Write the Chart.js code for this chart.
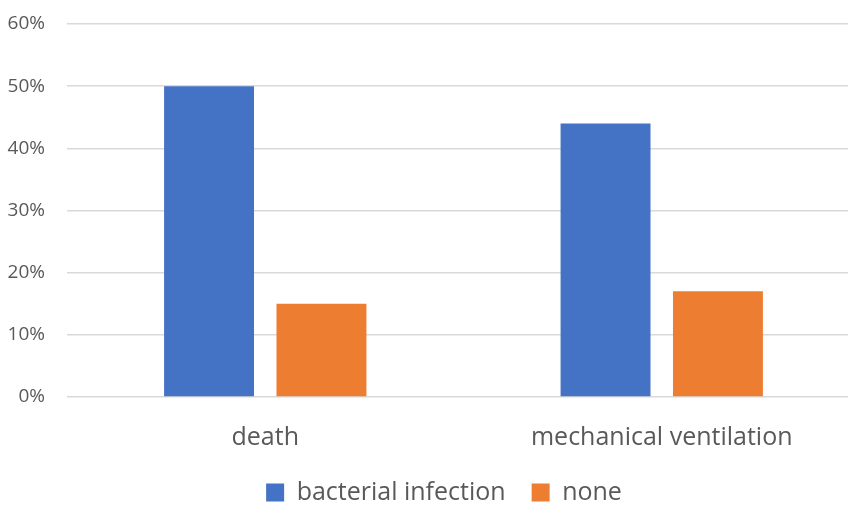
<!DOCTYPE html>
<html>
<head>
<meta charset="utf-8">
<script src="https://cdn.jsdelivr.net/npm/chart.js@4"></script>
<style>
html,body{margin:0;padding:0;background:#fff;overflow:hidden;}
#wrap{position:relative;width:860px;height:505px;}
</style>
</head>
<body>
<div id="wrap"><canvas id="c"></canvas></div>
<script>
const categories = ["death", "mechanical ventilation"];
const bacterialInfection = [50, 44];
const none = [15, 17];
const seriesNames = ["bacterial infection", "none"];
const yTicks = [0, 10, 20, 30, 40, 50, 60];

const FONT = "'Open Sans', 'Liberation Sans', sans-serif";
const TEXT = "#595959";

const shiftLegend = {
  id: "shiftLegend",
  afterLayout(chart) {
    const l = chart.legend;
    if (l) { l.left += 14; l.right += 14; }
  }
};

new Chart(document.getElementById("c"), {
  type: "bar",
  data: {
    labels: categories,
    datasets: [
      { label: seriesNames[0], data: bacterialInfection, backgroundColor: "#4472C4",
        categoryPercentage: 0.567, barPercentage: 0.8 },
      { label: seriesNames[1], data: none, backgroundColor: "#ED7D31",
        categoryPercentage: 0.567, barPercentage: 0.8 }
    ]
  },
  options: {
    responsive: true,
    maintainAspectRatio: false,
    animation: false,
    layout: { padding: { top: 24, left: 0, right: 0, bottom: -10 } },
    plugins: {
      tooltip: { enabled: false },
      legend: {
        position: "bottom",
        labels: {
          color: TEXT,
          font: { family: FONT, size: 25 },
          boxWidth: 18, boxHeight: 18,
          padding: 26
        }
      }
    },
    scales: {
      x: {
        grid: { display: false, drawTicks: false },
        border: { display: false },
        ticks: { color: TEXT, font: { family: FONT, size: 25 }, padding: 26 },
        afterFit: s => { s.height = 57; s.paddingLeft = 0; s.paddingRight = 0; }
      },
      y: {
        min: 0, max: 60,
        afterBuildTicks: s => { s.ticks = yTicks.map(v => ({ value: v })); },
        grid: { color: "#D9D9D9", lineWidth: 1.5, drawTicks: false },
        border: { display: false },
        ticks: { color: TEXT, font: { family: FONT, size: 19 }, padding: 22,
                 callback: v => v + "%" },
        afterFit: s => { s.width = 67; s.paddingTop = 0; s.paddingBottom = 0; }
      }
    }
  },
  plugins: [shiftLegend]
});
</script>
</body>
</html>
